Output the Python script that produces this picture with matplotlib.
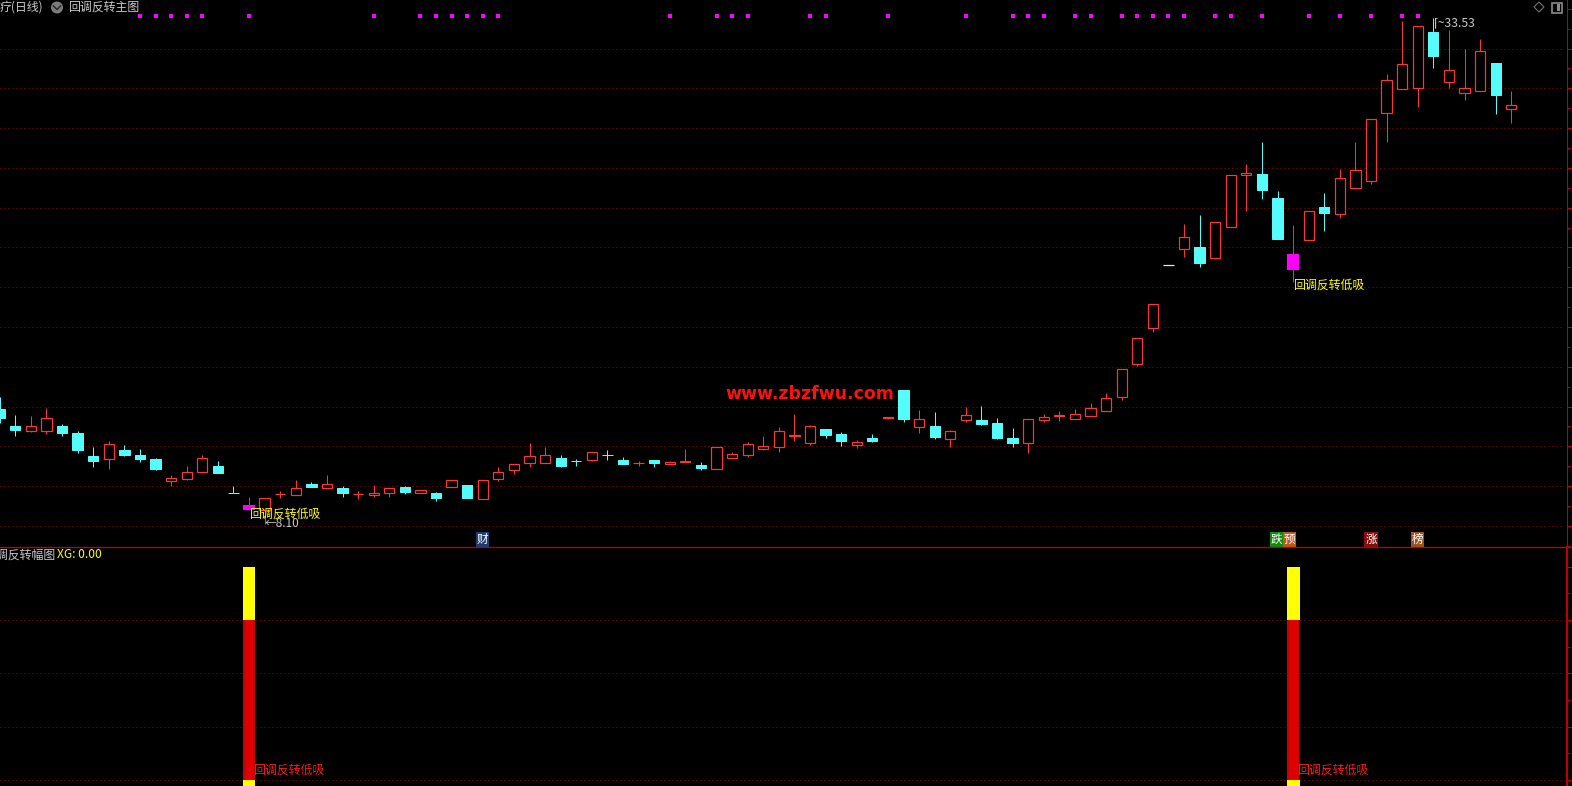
import matplotlib
matplotlib.use("Agg")
import matplotlib.pyplot as plt
import matplotlib.transforms as mtransforms
from matplotlib.lines import Line2D
from matplotlib.patches import Ellipse, Rectangle, Polygon
from matplotlib.ticker import MultipleLocator
import numpy as np

plt.rcParams['font.family'] = ['Noto Sans CJK SC', 'DejaVu Sans']

# daily OHLC (index 0 is the half-cut bar on the left edge)
opens = [13.86, 13.02, 12.79, 12.79, 13.02, 12.67, 11.51, 11.35, 11.82, 11.56,
         11.35, 10.27, 10.34, 10.69, 11.01, 9.65, 9.05, 8.80, 9.59, 9.57,
         10.09, 9.92, 9.92, 9.59, 9.57, 9.64, 9.94, 9.67, 9.64, 9.94,
         10.04, 9.33, 10.34, 10.80, 11.15, 11.15, 11.40, 11.27, 11.30, 11.56,
         11.30, 11.14, 11.30, 11.10, 11.20, 11.06, 10.88, 11.40, 11.55, 11.88,
         11.95, 12.51, 12.18, 12.87, 12.62, 12.08, 12.42, 13.40, 14.83, 12.96,
         13.02, 12.38, 13.34, 13.32, 13.17, 12.40, 12.15, 13.34, 13.52, 13.39,
         13.54, 13.79, 14.46, 16.15, 17.96, 21.10, 21.91, 22.02, 21.45, 23.01,
         25.63, 25.69, 24.49, 21.67, 22.36, 24.03, 23.70, 25.00, 25.35, 28.77,
         29.99, 30.00, 32.83, 30.33, 29.78, 29.88, 31.27, 28.94]
highs = [14.49, 13.57, 13.52, 13.91, 13.12, 12.77, 11.95, 12.27, 12.07, 11.85,
         11.40, 10.56, 11.01, 11.56, 11.26, 10.00, 9.47, 9.39, 9.75, 10.31,
         10.21, 10.56, 10.00, 9.75, 10.05, 9.89, 10.00, 9.79, 9.72, 10.31,
         10.04, 10.31, 10.95, 11.10, 12.17, 11.97, 11.55, 11.35, 11.70, 11.82,
         11.45, 11.26, 11.30, 11.25, 11.87, 11.20, 11.98, 11.70, 12.21, 12.52,
         12.97, 13.63, 13.09, 12.87, 12.72, 12.33, 12.61, 13.46, 14.83, 13.83,
         13.73, 12.82, 13.98, 14.03, 13.42, 12.92, 13.36, 13.63, 13.78, 13.88,
         14.18, 14.68, 15.87, 17.43, 19.15, 21.10, 23.18, 23.63, 23.26, 25.63,
         26.19, 27.30, 24.84, 23.11, 23.82, 24.74, 25.94, 27.30, 28.44, 30.72,
         33.38, 33.13, 33.53, 32.93, 31.98, 32.48, 31.27, 29.86]
lows = [13.19, 12.52, 12.74, 12.62, 12.53, 11.68, 10.98, 10.88, 11.51, 11.21,
        10.81, 10.00, 10.31, 10.69, 10.67, 9.64, 8.78, 8.10, 9.40, 9.57,
        9.94, 9.92, 9.47, 9.35, 9.47, 9.44, 9.60, 9.67, 9.27, 9.94,
        9.42, 9.33, 10.27, 10.63, 10.98, 11.15, 10.98, 11.03, 11.25, 11.31,
        11.13, 11.03, 10.98, 11.10, 11.20, 10.83, 10.88, 11.40, 11.48, 11.83,
        11.73, 12.28, 12.05, 12.43, 12.03, 11.93, 12.23, 13.39, 13.24, 12.69,
        12.38, 11.97, 13.24, 13.09, 12.37, 11.97, 11.66, 13.22, 13.29, 13.39,
        13.54, 13.79, 14.35, 16.05, 17.73, 21.10, 21.53, 21.03, 21.45, 23.01,
        23.85, 24.43, 22.44, 20.28, 22.36, 22.84, 23.49, 25.00, 25.20, 27.32,
        29.99, 29.08, 31.04, 30.03, 29.43, 29.88, 28.72, 28.27]
closes = [13.44, 12.82, 13.02, 13.41, 12.69, 11.83, 11.28, 12.10, 11.58, 11.36,
          10.88, 10.41, 10.69, 11.40, 10.67, 9.64, 8.81, 9.39, 9.61, 9.89,
          9.97, 10.09, 9.67, 9.61, 9.64, 9.89, 9.72, 9.79, 9.42, 10.31,
          9.42, 10.31, 10.69, 11.10, 11.50, 11.55, 11.03, 11.25, 11.70, 11.54,
          11.13, 11.16, 11.18, 11.20, 11.26, 10.93, 11.95, 11.60, 12.10, 12.02,
          12.75, 12.56, 13.01, 12.59, 12.28, 12.21, 12.28, 13.45, 13.39, 13.36,
          12.48, 12.75, 13.56, 13.14, 12.42, 12.18, 13.36, 13.46, 13.56, 13.61,
          13.91, 14.41, 15.87, 17.43, 19.15, 21.10, 22.51, 21.23, 23.26, 25.63,
          25.73, 24.90, 22.44, 20.88, 23.82, 23.75, 25.47, 25.88, 28.44, 30.40,
          31.21, 33.13, 31.64, 30.91, 30.00, 31.88, 29.66, 29.15]

signal_days = [16, 83]          # 回调反转低吸
dot_days = [9, 10, 11, 12, 13, 16, 24, 27, 28, 29, 30, 31, 32, 43, 46, 47, 48,
            52, 53, 57, 62, 65, 66, 67, 69, 70, 72, 73, 74, 75, 76, 78, 79, 81,
            84, 86, 88, 90, 91]
grid_prices = list(range(8, 33, 2))
tag_days = [31, 82, 83, 88, 91]
tag_text = ['财', '跌', '预', '涨', '榜']
tag_colors = ['#1d3d70', '#128a12', '#c0561c', '#8a0c0c', '#9c5420']
tag_shift = [0, -1, -4, 0, 0]    # pixels

xg_yellow = [4.0, 4.0]
xg_red = [3.0, 3.0]
sub_grid = [0, 1, 2, 3]

W, H = 1572, 786
RED = '#ff3434'
CYAN = '#54fcfc'
MAG = '#ff00ff'
GRID = '#a80000'
AXIS = '#c00000'
PX = 0.72  # one pixel in points


def fx(p):
    return p / W


def fy(p):
    return 1 - p / H


split = 547.3
axis_x = 1567.3
step = 15.583

fig = plt.figure(figsize=(W / 100, H / 100), dpi=100, facecolor='black')
ax = fig.add_axes([0, fy(split), fx(axis_x), split / H], facecolor='black')
sub = fig.add_axes([0, 0, fx(axis_x), (H - split) / H], facecolor='black')

for a in (ax, sub):
    a.set_xlim(0.3 / step, (axis_x + 0.3) / step)
    for s in ('top', 'left', 'bottom'):
        a.spines[s].set_visible(False)
    a.spines['right'].set_color(AXIS)
    a.set_xticks([])
    a.yaxis.tick_right()
    a.tick_params(axis='y', which='both', colors=AXIS, labelright=False, width=PX)
    a.tick_params(axis='y', which='major', length=3.6)
    a.tick_params(axis='y', which='minor', length=2.2)

ax.set_ylim(34.44 - 0.05028 * split, 34.44)
ax.spines['right'].set_linewidth(PX)
ax.yaxis.set_major_locator(MultipleLocator(2))
ax.yaxis.set_minor_locator(MultipleLocator(1))

sub.set_ylim(-0.1126, 4.366)
sub.spines['right'].set_linewidth(1.5)
sub.yaxis.set_major_locator(MultipleLocator(1))
sub.yaxis.set_minor_locator(MultipleLocator(0.5))

gx = 1563 / axis_x
for g in grid_prices:
    ax.axhline(g, xmax=gx, color=GRID, lw=PX, ls=(0, (1, 3)), zorder=0)
for g in sub_grid:
    sub.axhline(g, xmax=gx, color=GRID, lw=PX, ls=(0, (1, 3)), zorder=0)

# candles
o, h, l, c = map(np.array, (opens, highs, lows, closes))
x = np.arange(len(o))
for i in x:
    lo, hi = min(o[i], c[i]), max(o[i], c[i])
    if i in signal_days:
        ax.vlines(i, l[i], h[i], color=MAG, lw=PX, zorder=2)
        ax.bar(i, hi - lo, bottom=lo, width=0.82, color=MAG, lw=0, zorder=3)
    elif c[i] > o[i]:
        ax.vlines(i, l[i], h[i], color=RED, lw=PX, zorder=2)
        ax.bar(i, hi - lo, bottom=lo, width=0.66, facecolor='black',
               edgecolor=RED, lw=PX * 1.2, zorder=3)
    elif c[i] < o[i]:
        ax.vlines(i, l[i], h[i], color=CYAN, lw=PX, zorder=2)
        ax.bar(i, hi - lo, bottom=lo, width=0.66, facecolor=CYAN,
               edgecolor=CYAN, lw=PX, zorder=3)
    else:
        ax.hlines(c[i], i - 0.33, i + 0.33, color='#e8e8e8', lw=PX * 1.2, zorder=3)

top_row = mtransforms.blended_transform_factory(ax.transData, ax.transAxes)
ax.plot(dot_days, [1 - 16.3 / split] * len(dot_days), ls='none', marker='s',
        ms=2.3, mew=0, color=MAG, transform=top_row, zorder=4)

for i in signal_days:
    ax.annotate('回调反转低吸', xy=(i, lows[i]), xytext=(0, -4),
                textcoords='offset pixels', ha='left', va='center',
                color='#ffff00', fontsize=8.6, zorder=6)

lo_i = int(np.argmin(l))
hi_i = int(np.argmax(h))
ax.annotate('←' + f'{l[lo_i]:.2f}', xy=(lo_i, l[lo_i]), xytext=(0, 0),
            textcoords='offset pixels', ha='left', va='center',
            color='#c8c8c8', fontsize=8.5, zorder=6)
ax.annotate('⌈~' + f'{h[hi_i]:.2f}', xy=(hi_i, h[hi_i]), xytext=(1, -5),
            textcoords='offset pixels', ha='left', va='center',
            color='#c8c8c8', fontsize=8.8, zorder=6)

for d, t, col, dx in zip(tag_days, tag_text, tag_colors, tag_shift):
    ax.annotate(t, xy=(d, 1 - 539.5 / split), xycoords=top_row, xytext=(dx, 0),
                textcoords='offset pixels', ha='center', va='center',
                color='white', fontsize=8.4, zorder=6,
                bbox=dict(boxstyle='square,pad=0.06', fc=col, ec='none'))

# lower panel: signal bars
for i, yt, rt in zip(signal_days, xg_yellow, xg_red):
    sub.bar(i, yt + 0.5, bottom=-0.5, width=0.83, color='#ffff00', lw=0, zorder=2)
    sub.bar(i, rt, bottom=0, width=0.83, color='#9a0000', lw=0, zorder=3)
    sub.bar(i, rt, bottom=0, width=0.72, color='#c40000', lw=0, zorder=3)
    sub.bar(i, rt, bottom=0, width=0.58, color='#de0000', lw=0, zorder=3)
    sub.annotate('回调反转低吸', xy=(i, 0), xytext=(4, 10),
                 textcoords='offset pixels', ha='left', va='center',
                 color='#ff1a1a', fontsize=8.6, zorder=6)

fig.add_artist(Line2D([0, 1], [fy(split), fy(split)], transform=fig.transFigure,
                      color=AXIS, lw=PX * 1.3))

# headers
fig.text(fx(0), fy(7), '疗(日线)', color='#c8c8c8', fontsize=8.6, va='center')
fig.add_artist(Ellipse((fx(57), fy(7.5)), 12 / W, 12 / H, transform=fig.transFigure,
                       fc='#7c7c7c', ec='none'))
fig.add_artist(Line2D([fx(53.5), fx(57), fx(60.5)], [fy(6), fy(9.5), fy(6)],
                      transform=fig.transFigure, color='#2a2a2a', lw=1.1))
fig.text(fx(68), fy(7), '回调反转主图', color='#c8c8c8', fontsize=8.6, va='center')

fig.add_artist(Polygon([(fx(1534), fy(7)), (fx(1539), fy(2)), (fx(1544), fy(7)),
                        (fx(1539), fy(12))], closed=True, transform=fig.transFigure,
                       fill=False, ec='#707070', lw=0.8))
fig.add_artist(Rectangle((fx(1552), fy(12.5)), 10 / W, 10 / H, transform=fig.transFigure,
                         fill=False, ec='#8c8c8c', lw=1.2))
fig.add_artist(Rectangle((fx(1557), fy(10.5)), 3 / W, 6 / H, transform=fig.transFigure,
                         fc='#8c8c8c', ec='none'))

fig.text(fx(-16), fy(555), '回调反转幅图', color='#c8c8c8', fontsize=8.6, va='center')
fig.text(fx(57), fy(555), 'XG: 0.00', color='#ffff00', fontsize=8.6, va='center')

fig.text(fx(810), fy(394), 'www.zbzfwu.com', color='#ff1010', fontsize=12.5,
         fontweight='bold', family='DejaVu Sans', ha='center', va='center', zorder=7)

fig.savefig('out.png', dpi=100, facecolor='black')
